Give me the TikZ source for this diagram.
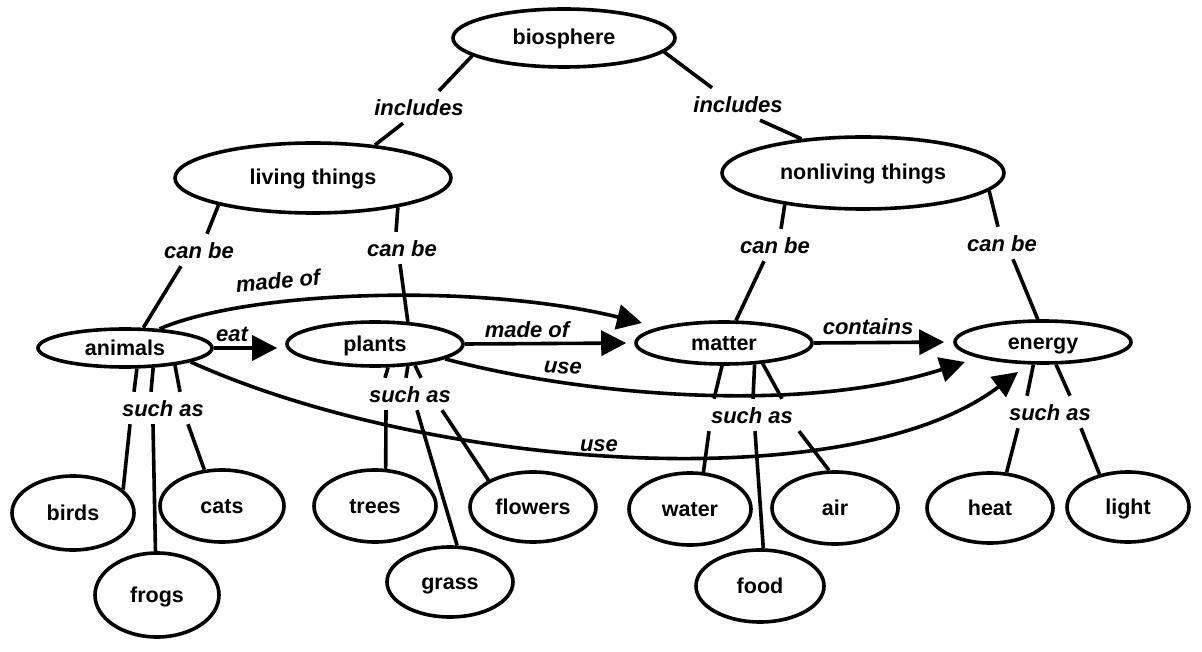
\documentclass[tikz,border=0pt]{standalone}
\usepackage{fontspec}
\setmainfont{Liberation Sans}
\usetikzlibrary{shapes.geometric,arrows.meta}
\begin{document}
\begin{tikzpicture}[x=1pt,y=-1pt,
  concept/.style={draw,ellipse,line width=3.6pt,inner sep=0pt,text height=17pt,text depth=3pt,font=\fontsize{21.5}{24}\selectfont\bfseries},
  lbl/.style={inner sep=0pt,minimum height=32pt,text height=18.5pt,text depth=1.5pt,font=\fontsize{22}{26}\selectfont\bfseries\itshape},
  link/.style={line width=3.6pt},
  arr/.style={line width=3.6pt,-{Triangle[length=25pt,width=25pt]}},
]
\path[use as bounding box] (0,0) rectangle (1202,652);

% concepts
\node[concept,minimum width=222pt,minimum height=58pt] (bio) at (564,38) {biosphere};
\node[concept,minimum width=276pt,minimum height=70pt] (living) at (313,178) {living things};
\node[concept,minimum width=282pt,minimum height=72pt] (nonliving) at (863,173) {nonliving things};
\node[concept,minimum width=174pt,minimum height=38pt] (animals) at (125,348) {animals};
\node[concept,minimum width=176pt,minimum height=44pt] (plants) at (375,344) {plants};
\node[concept,minimum width=176pt,minimum height=42pt] (matter) at (724,343) {matter};
\node[concept,minimum width=176pt,minimum height=42pt] (energy) at (1043,342) {energy};
\node[concept,minimum width=122pt,minimum height=74pt] (birds) at (73,513) {birds};
\node[concept,minimum width=124pt,minimum height=72pt] (cats) at (222,506) {cats};
\node[concept,minimum width=124pt,minimum height=84pt] (frogs) at (157,595) {frogs};
\node[concept,minimum width=122pt,minimum height=72pt] (trees) at (375,506) {trees};
\node[concept,minimum width=126pt,minimum height=70pt] (grass) at (450,582) {grass};
\node[concept,minimum width=126pt,minimum height=70pt] (flowers) at (533,507) {flowers};
\node[concept,minimum width=122pt,minimum height=72pt] (water) at (690,509) {water};
\node[concept,minimum width=126pt,minimum height=72pt] (air) at (835,508) {air};
\node[concept,minimum width=128pt,minimum height=72pt] (food) at (760,586) {food};
\node[concept,minimum width=126pt,minimum height=70pt] (heat) at (990,508) {heat};
\node[concept,minimum width=122pt,minimum height=70pt] (light) at (1128,507) {light};

% linking words
\node[lbl] (inc1) at (419,107) {includes};
\node[lbl] (inc2) at (738,104) {includes};
\node[lbl] (cb1) at (199,250) {can be};
\node[lbl] (cb2) at (402,248) {can be};
\node[lbl] (cb3) at (775,245) {can be};
\node[lbl] (cb4) at (1002,243) {can be};
\node[lbl] (sa1) at (163,408) {such as};
\node[lbl] (sa2) at (410,394) {such as};
\node[lbl] (sa3) at (752,415) {such as};
\node[lbl] (sa4) at (1050,412) {such as};
\node[lbl,rotate=5] (mo1) at (278,280) {made of};
\node[lbl] (mo2) at (527,329) {made of};
\node[lbl] (eat) at (232,333) {eat};
\node[lbl] (cont) at (868,326) {contains};
\node[lbl,rotate=-4] (use1) at (563,365) {use};
\node[lbl] (use2) at (599,443) {use};

% hierarchy links
\draw[link] (bio.191) -- ([xshift=20pt]inc1.north);
\draw[link] ([xshift=-16pt]inc1.south) -- (living.28);
\draw[link] (bio.352) -- ([xshift=-26pt]inc2.north);
\draw[link] ([xshift=22pt]inc2.south) -- (nonliving.151);
\draw[link] (living.196) -- ([xshift=8pt]cb1.north);
\draw[link] ([xshift=-18pt]cb1.south) -- (animals.48);
\draw[link] (living.341) -- ([xshift=-6pt]cb2.north);
\draw[link] ([xshift=-2pt]cb2.south) -- (plants.34);
\draw[link] (nonliving.202) -- ([xshift=6pt]cb3.north);
\draw[link] ([xshift=-11pt]cb3.south) -- (matter.62);
\draw[link] (nonliving.352) -- ([xshift=-4pt]cb4.north);
\draw[link] ([xshift=11pt]cb4.south) -- (energy.103);

% such as: animals
\draw[link] (animals.300) -- ([xshift=-29pt]sa1.north);
\draw[link] (animals.325) -- ([xshift=-12pt]sa1.north);
\draw[link] (animals.341) -- ([xshift=17pt]sa1.north);
\draw[link] ([xshift=-33pt]sa1.south) -- (birds.25);
\draw[link] ([xshift=-10pt]sa1.south) -- (frogs.92);
\draw[link] ([xshift=25pt]sa1.south) -- (cats.116);
% such as: plants
\draw[link] (plants.299) -- ([xshift=-25pt]sa2.north);
\draw[link] (plants.326) -- ([xshift=-4pt]sa2.north);
\draw[link] (plants.332) -- ([xshift=11pt]sa2.north);
\draw[link] ([xshift=-24pt]sa2.south) -- (trees.74);
\draw[link] ([xshift=7pt]sa2.south) -- (grass.79);
\draw[link] ([xshift=32pt]sa2.south) -- (flowers.149);
% such as: matter
\draw[link] (matter.265) -- ([xshift=-38pt]sa3.north);
\draw[link] (matter.325) -- ([xshift=1pt]sa3.north);
\draw[link] (matter.332) -- ([xshift=30pt]sa3.north);
\draw[link] ([xshift=-43pt]sa3.south) -- (water.70);
\draw[link] ([xshift=3pt]sa3.south) -- (food.85);
\draw[link] ([xshift=47pt]sa3.south) -- (air.99);
% such as: energy
\draw[link] (energy.247) -- ([xshift=-23pt]sa4.north);
\draw[link] (energy.300) -- ([xshift=20pt]sa4.north);
\draw[link] ([xshift=-32pt]sa4.south) -- (heat.65);
\draw[link] ([xshift=31pt]sa4.south) -- (light.131);

% arrows
\coordinate (mtip) at ([shift={(-82,-20)}]matter.center);
\coordinate (etip1) at ([shift={(-78,20)}]energy.center);
\coordinate (etip2) at ([shift={(-25,30)}]energy.center);
\draw[arr] (animals.29) .. controls (250,290) and (480,283) .. (mtip);
\draw[arr,shorten >=8pt] (animals.east) -- (plants.west |- animals.east);
\draw[arr,shorten >=8pt] (plants.east) -- (matter.west);
\draw[arr,shorten >=9pt] (matter.east) -- (energy.west);
\draw[arr] (plants.348) .. controls (580,395) and (800,415) .. (etip1);
\draw[arr] (animals.348) .. controls (430,470) and (850,500) .. (etip2);
\end{tikzpicture}
\end{document}
